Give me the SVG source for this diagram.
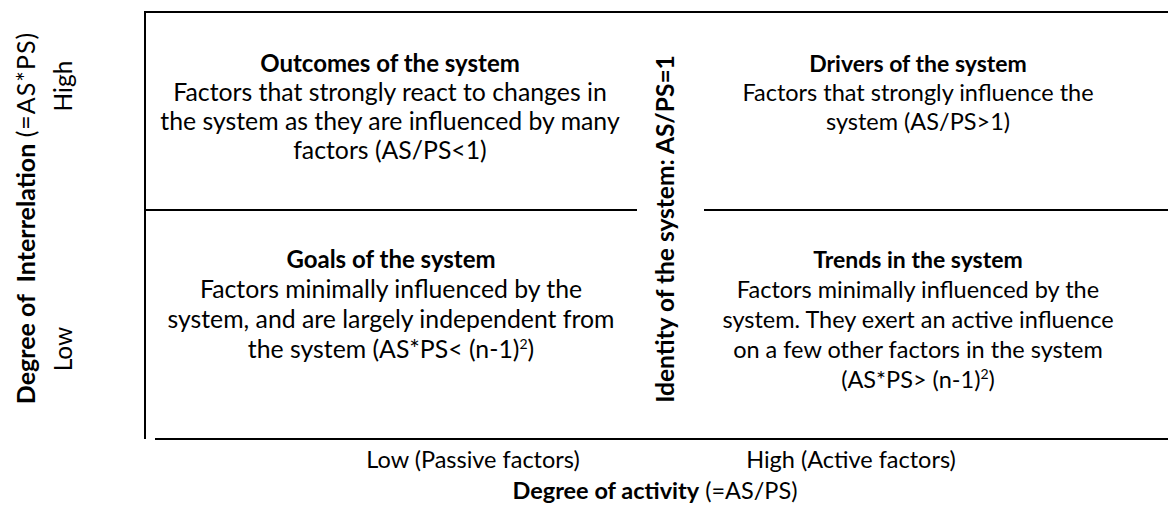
<svg xmlns="http://www.w3.org/2000/svg" width="1168" height="505" viewBox="0 0 1168 505">
<style>
text{font-family:Lato,"Open Sans","Liberation Sans",sans-serif;font-size:23.5px;fill:#000;text-anchor:middle}
.b{font-weight:bold}
.t{font-weight:bold;font-size:23px}
.L{font-size:24.8px}
.Lt{font-weight:bold;font-size:24px}
.ln{stroke:#000;stroke-width:2;fill:none}
.sup{font-size:14px}
</style>
<rect width="1168" height="505" fill="#fff"/>
<g id="frame">
<line class="ln" x1="145" y1="12" x2="1168" y2="12"/>
<line class="ln" x1="145" y1="11" x2="145" y2="439"/>
<line class="ln" x1="145" y1="210" x2="637" y2="210"/>
<line class="ln" x1="704" y1="210" x2="1168" y2="210"/>
<line class="ln" x1="155" y1="439" x2="1168" y2="439"/>
</g>
<g id="outcomes">
<text class="Lt" x="390" y="72">Outcomes of the system</text>
<text class="L" x="390" y="101">Factors that strongly react to changes in</text>
<text class="L" x="390" y="130">the system as they are influenced by many</text>
<text class="L" x="390" y="159">factors (AS/PS&lt;1)</text>
</g>
<g id="drivers">
<text class="t" x="918" y="72">Drivers of the system</text>
<text x="918" y="101">Factors that strongly influence the</text>
<text x="918" y="130">system (AS/PS&gt;1)</text>
</g>
<g id="goals">
<text class="Lt" x="391" y="268">Goals of the system</text>
<text class="L" x="391" y="298">Factors minimally influenced by the</text>
<text class="L" x="391" y="328">system, and are largely independent from</text>
<text class="L" x="391" y="358">the system (AS*PS&lt; (n-1)<tspan class="sup" dy="-9">2</tspan><tspan dy="9">)</tspan></text>
</g>
<g id="trends">
<text class="t" x="918" y="268">Trends in the system</text>
<text x="918" y="298">Factors minimally influenced by the</text>
<text x="918" y="328">system. They exert an active influence</text>
<text x="918" y="358">on a few other factors in the system</text>
<text x="918" y="388">(AS*PS&gt; (n-1)<tspan class="sup" dy="-9">2</tspan><tspan dy="9">)</tspan></text>
</g>
<g id="identity">
<text class="b" style="font-size:24.5px" transform="translate(674,229) rotate(-90)">Identity of the system: AS/PS=1</text>
</g>
<g id="y-axis">
<text style="font-size:25px" transform="translate(35,218) rotate(-90)" xml:space="preserve"><tspan class="b">Degree of  Interrelation</tspan> <tspan letter-spacing="1">(=AS*PS)</tspan></text>
<text style="font-size:24.5px" transform="translate(72,86) rotate(-90)">High</text>
<text style="font-size:24.5px" transform="translate(72,349) rotate(-90)">Low</text>
</g>
<g id="x-axis">
<text x="473" y="468">Low (Passive factors)</text>
<text x="851" y="468">High (Active factors)</text>
<text x="655" y="499"><tspan class="b">Degree of activity</tspan> (=AS/PS)</text>
</g>
</svg>
